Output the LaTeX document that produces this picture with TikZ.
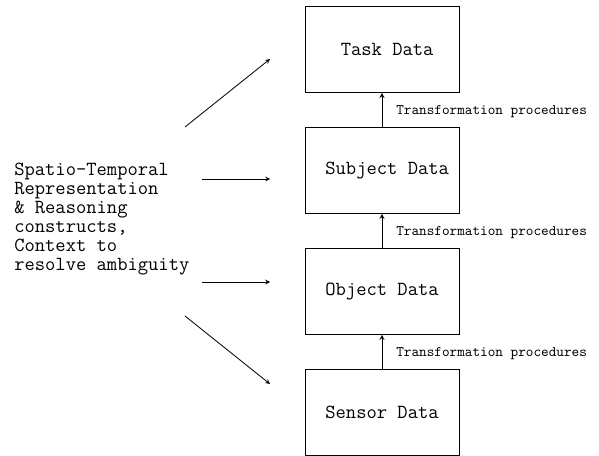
\documentclass[tikz,border=0pt]{standalone}
\usepackage{fontspec}
\usetikzlibrary{positioning}

\begin{document}
\begin{tikzpicture}[x=0.75pt, y=-0.75pt,
  databox/.style={draw, rectangle, line width=0.7pt, minimum width=115.5pt, minimum height=64.5pt, font=\ttfamily\fontsize{15}{16}\selectfont},
  trlabel/.style={right, xshift=7pt, yshift=-1.5pt, font=\ttfamily\fontsize{10.9}{12}\selectfont}]
\useasboundingbox (0,0) rectangle (599,456);
\node[databox] (task) at (382,49.5) {\ Task Data};
\node[databox, below=25.5pt of task] (subject) {\ Subject Data};
\node[databox, below=25.5pt of subject] (object) {Object Data};
\node[databox, below=25.5pt of object] (sensor) {Sensor Data};
\draw [->,>=stealth,line width=0.7pt] (sensor) -- node[trlabel] (tr1) {Transformation procedures} (object);
\draw [->,>=stealth,line width=0.7pt] (object) -- node[trlabel] (tr2) {Transformation procedures} (subject);
\draw [->,>=stealth,line width=0.7pt] (subject) -- node[trlabel] (tr3) {Transformation procedures} (task);
% context text and its arrows
\node[anchor=west, inner sep=0pt, align=left, font=\ttfamily\fontsize{15}{14.2}\selectfont] (ctx) at (14,219)
  {Spatio-Temporal\\Representation\\\& Reasoning\\constructs,\\Context to\\resolve ambiguity};
\coordinate (c1s) at (185,127);  \coordinate (c1e) at (270,59);
\coordinate (c2s) at (202,179);  \coordinate (c2e) at (270,179);
\coordinate (c3s) at (202,282);  \coordinate (c3e) at (270,282);
\coordinate (c4s) at (185,316);  \coordinate (c4e) at (270,384);
\draw [->,>=stealth,line width=0.6pt] (c1s) -- (c1e);
\draw [->,>=stealth,line width=0.6pt] (c2s) -- (c2e);
\draw [->,>=stealth,line width=0.6pt] (c3s) -- (c3e);
\draw [->,>=stealth,line width=0.6pt] (c4s) -- (c4e);
\end{tikzpicture}
\end{document}
